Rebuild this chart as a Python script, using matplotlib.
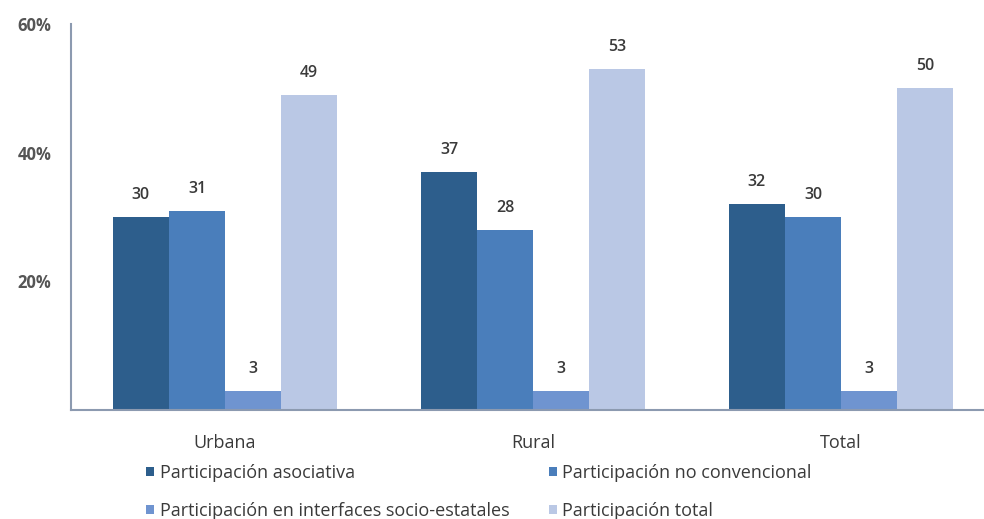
import matplotlib.pyplot as plt
import numpy as np
from matplotlib.patches import Patch

plt.rcParams['font.family'] = ['Open Sans', 'DejaVu Sans']

categorias = ["Urbana", "Rural", "Total"]
series = ["Participación asociativa", "Participación no convencional",
          "Participación en interfaces socio-estatales", "Participación total"]
asociativa = [30, 37, 32]
no_convencional = [31, 28, 30]
interfaces = [3, 3, 3]
total = [49, 53, 50]
yticks = [20, 40, 60]
ytick_labels = ["20%", "40%", "60%"]

colores = ["#2D5E8C", "#4A7EBB", "#6F94D0", "#BAC8E5"]
texto = "#3a3a3a"
eje = "#8C9AB0"

fig = plt.figure(figsize=(9.84, 5.19), dpi=100)
ax = fig.add_axes([71/984, 109/519, 913/984, 386/519])

x = np.arange(len(categorias))
w = 0.182
valores = [asociativa, no_convencional, interfaces, total]
for i, (vals, c) in enumerate(zip(valores, colores)):
    pos = x + (i - 1.5) * w
    bars = ax.bar(pos, vals, width=w, color=c, label=series[i])
    for b, v in zip(bars, vals):
        ax.annotate(str(v), (b.get_x() + b.get_width()/2, v), xytext=(0, 10),
                    textcoords="offset points", ha="center", va="bottom",
                    fontsize=11.5, color=texto, fontweight="semibold")

ax.set_xlim(-0.5, 2.464)
ax.set_ylim(0, 60)
ax.set_xticks(x)
ax.set_xticklabels(categorias, fontsize=13, color=texto)
ax.set_yticks(yticks)
ax.set_yticklabels(ytick_labels, fontsize=12, color="#555555", fontweight="bold")
ax.tick_params(axis="x", length=0, pad=17)
ax.tick_params(axis="y", length=0, pad=14)
for s in ["top", "right"]:
    ax.spines[s].set_visible(False)
for s in ["left", "bottom"]:
    ax.spines[s].set_color(eje)
    ax.spines[s].set_linewidth(1.5)

# row-major order in a 2-column legend
orden = [0, 2, 1, 3]
handles = [Patch(facecolor=colores[i]) for i in orden]
labels = [series[i] for i in orden]
fig.legend(handles, labels, loc="upper left", bbox_to_anchor=(137/984, 1 - 455/519),
           ncol=2, frameon=False, fontsize=13, handlelength=0.45, handleheight=0.45,
           handletextpad=0.3, columnspacing=2.2, labelspacing=1.1,
           labelcolor=texto, borderpad=0)

fig.savefig("out.png", dpi=100)
